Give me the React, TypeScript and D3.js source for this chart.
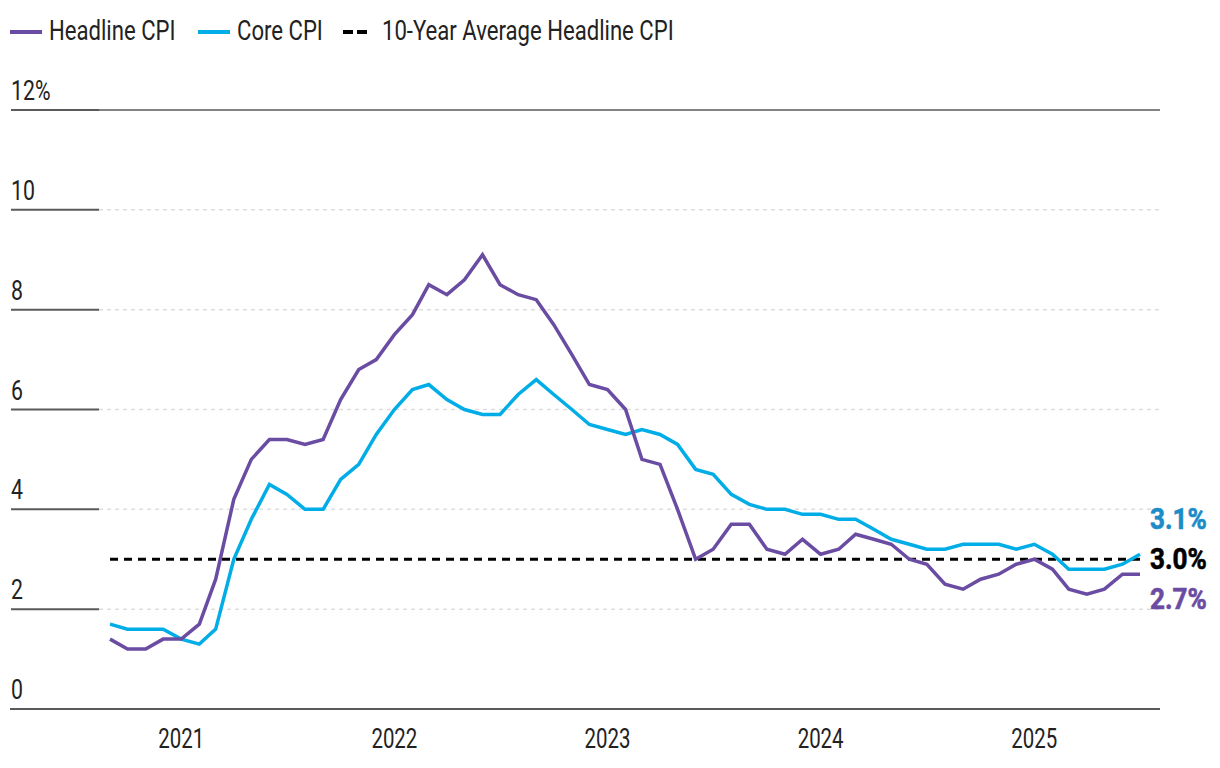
import React, { useEffect, useRef } from 'react';
import * as d3 from 'd3';

// monthly y/y % change, Sep 2020 .. Jul 2025
const startMonth = new Date(2020, 8, 1);
const headlineCPI = [
  1.4, 1.2, 1.2, 1.4,
  1.4, 1.7, 2.6, 4.2, 5.0, 5.4, 5.4, 5.3, 5.4, 6.2, 6.8, 7.0,
  7.5, 7.9, 8.5, 8.3, 8.6, 9.1, 8.5, 8.3, 8.2, 7.7, 7.1, 6.5,
  6.4, 6.0, 5.0, 4.9, 4.0, 3.0, 3.2, 3.7, 3.7, 3.2, 3.1, 3.4,
  3.1, 3.2, 3.5, 3.4, 3.3, 3.0, 2.9, 2.5, 2.4, 2.6, 2.7, 2.9,
  3.0, 2.8, 2.4, 2.3, 2.4, 2.7, 2.7,
];
const coreCPI = [
  1.7, 1.6, 1.6, 1.6,
  1.4, 1.3, 1.6, 3.0, 3.8, 4.5, 4.3, 4.0, 4.0, 4.6, 4.9, 5.5,
  6.0, 6.4, 6.5, 6.2, 6.0, 5.9, 5.9, 6.3, 6.6, 6.3, 6.0, 5.7,
  5.6, 5.5, 5.6, 5.5, 5.3, 4.8, 4.7, 4.3, 4.1, 4.0, 4.0, 3.9,
  3.9, 3.8, 3.8, 3.6, 3.4, 3.3, 3.2, 3.2, 3.3, 3.3, 3.3, 3.2,
  3.3, 3.1, 2.8, 2.8, 2.8, 2.9, 3.1,
];
const tenYearAverage = 3.0;
const yTicks = [0, 2, 4, 6, 8, 10, 12];
const yearLabels = [2021, 2022, 2023, 2024, 2025];

const PURPLE = '#6a4ca2';
const BLUE = '#00ade6';
const BLUE_LABEL = '#1b8cc8';
const FONT = 'Roboto, "Noto Sans", sans-serif';

type Sel = d3.Selection<SVGGElement, unknown, null, undefined>;

// condensed-looking text: squeeze glyphs horizontally
function squeezed(parent: Sel, x: number, y: number, str: string, sx: number, anchor = 'start') {
  return parent.append('text')
    .attr('transform', `translate(${x},${y}) scale(${sx},1)`)
    .attr('text-anchor', anchor)
    .text(str);
}

const App: React.FC = () => {
  const svgRef = useRef<SVGSVGElement>(null);

  useEffect(() => {
    if (!svgRef.current) return;
    const svg = d3.select(svgRef.current);
    svg.selectAll('*').remove();

    const months = headlineCPI.map((_, i) => d3.timeMonth.offset(startMonth, i));
    const x = d3.scaleTime()
      .domain([months[0], months[months.length - 1]])
      .range([110, 1140]);
    const y = d3.scaleLinear().domain([0, 12]).range([709, 110]);

    // gridlines + y labels
    const grid = svg.append('g')
      .attr('font-family', FONT).attr('font-size', 28).attr('fill', '#222') as Sel;
    yTicks.forEach(t => {
      const gy = y(t);
      if (t === 0) {
        grid.append('line')
          .attr('x1', 10).attr('x2', 1160).attr('y1', gy).attr('y2', gy)
          .attr('stroke', '#5a5a5a').attr('stroke-width', 2);
      } else {
        grid.append('line')
          .attr('x1', 99).attr('x2', 1160).attr('y1', gy).attr('y2', gy)
          .attr('stroke', t === 12 ? '#5a5a5a' : '#dddddd')
          .attr('stroke-width', 1.5)
          .attr('stroke-dasharray', t === 12 ? null : '4 4');
        grid.append('line')
          .attr('x1', 11).attr('x2', 99).attr('y1', gy).attr('y2', gy)
          .attr('stroke', '#5a5a5a').attr('stroke-width', 2);
      }
      squeezed(grid, 11, gy - 10, t === 12 ? '12%' : String(t), 0.76);
    });

    // year labels
    const years = svg.append('g')
      .attr('font-family', FONT).attr('font-size', 28).attr('fill', '#222') as Sel;
    yearLabels.forEach(yr => {
      squeezed(years, x(new Date(yr, 0, 1)), 748, String(yr), 0.73, 'middle');
    });

    // 10-year average
    svg.append('line')
      .attr('x1', x(months[0])).attr('x2', x(months[months.length - 1]))
      .attr('y1', y(tenYearAverage)).attr('y2', y(tenYearAverage))
      .attr('stroke', '#000').attr('stroke-width', 3)
      .attr('stroke-dasharray', '8 6');

    const line = d3.line<number>()
      .x((_, i) => x(months[i]))
      .y(d => y(d));

    svg.append('path')
      .datum(coreCPI)
      .attr('fill', 'none').attr('stroke', BLUE).attr('stroke-width', 3.5)
      .attr('d', line);

    svg.append('path')
      .datum(headlineCPI)
      .attr('fill', 'none').attr('stroke', PURPLE).attr('stroke-width', 3.5)
      .attr('d', line);

    // end labels
    const endLabels = [
      { v: coreCPI[coreCPI.length - 1], dy: -30, color: BLUE_LABEL },
      { v: tenYearAverage, dy: 10, color: '#000' },
      { v: headlineCPI[headlineCPI.length - 1], dy: 50, color: PURPLE },
    ];
    const ends = svg.append('g')
      .attr('font-family', FONT).attr('font-size', 29).attr('font-weight', 'bold') as Sel;
    endLabels.forEach(d => {
      squeezed(ends, 1150, y(tenYearAverage) + d.dy, `${d.v.toFixed(1)}%`, 0.9)
        .attr('fill', d.color)
        .attr('stroke', d.color).attr('stroke-width', 0.6);
    });

    // legend
    const legend = svg.append('g')
      .attr('font-family', FONT).attr('font-size', 28).attr('fill', '#222') as Sel;
    const items = [
      { label: 'Headline CPI', x: 10, color: PURPLE, dash: null as string | null },
      { label: 'Core CPI', x: 198, color: BLUE, dash: null },
      { label: '10-Year Average Headline CPI', x: 343, color: '#000', dash: '10 4' },
    ];
    items.forEach(it => {
      legend.append('line')
        .attr('x1', it.x).attr('x2', it.x + (it.dash ? 24 : 32)).attr('y1', 32).attr('y2', 32)
        .attr('stroke', it.color).attr('stroke-width', 4)
        .attr('stroke-dasharray', it.dash);
      squeezed(legend, it.x + 39, 40, it.label, 0.79);
    });
  }, []);

  return (
    <div style={{ position: 'absolute', left: 0, top: 0, background: '#fff' }}>
      <svg ref={svgRef} width={1220} height={768} style={{ display: 'block' }} />
    </div>
  );
};

export default App;
